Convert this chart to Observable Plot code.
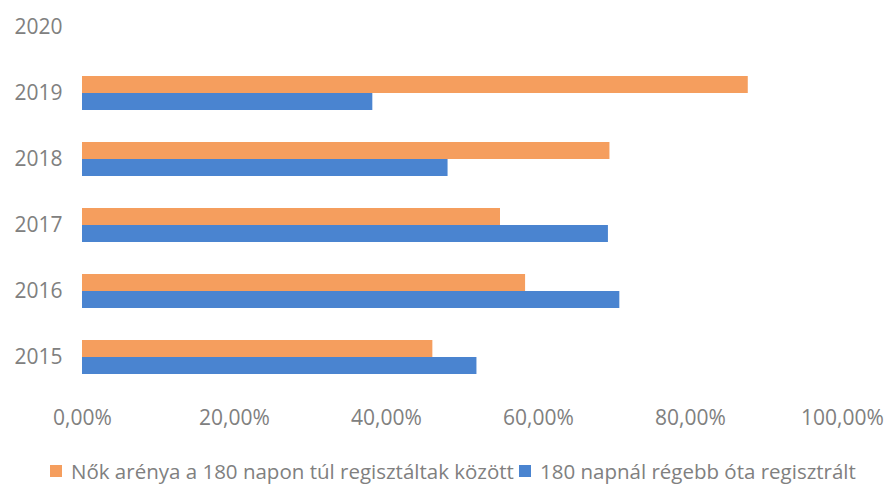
<!DOCTYPE html>
<html>
<head>
<meta charset="utf-8">
<script src="https://cdn.jsdelivr.net/npm/d3@7"></script>
<script src="https://cdn.jsdelivr.net/npm/@observablehq/plot@0.6"></script>
<style>
  html, body { margin: 0; padding: 0; background: #fff; }
  body { width: 889px; height: 487px; overflow: hidden; font-family: "Open Sans", sans-serif; }
  #legend { display: flex; align-items: center; padding-left: 50px; margin-top: 12px; font-size: 20.5px; color: #808080; white-space: nowrap; }
  .sw { display: inline-block; width: 12px; height: 12px; margin-right: 9px; }
  .item { display: flex; align-items: center; margin-right: 5px; }
</style>
</head>
<body>
<div id="chart"></div>
<div id="legend"></div>
<script>
const years = ["2020", "2019", "2018", "2017", "2016", "2015"];
const nokAranya = [null, 87.6, 69.4, 55.0, 58.3, 46.1];
const regebbOta = [null, 38.2, 48.1, 69.2, 70.7, 51.9];
const seriesNames = ["Nők arénya a 180 napon túl regisztáltak között", "180 napnál régebb óta regisztrált"];
const seriesColors = ["#F59E5E", "#4A84D0"];
const xTicks = [0, 20, 40, 60, 80, 100];

const orangeData = years.map((y, i) => ({year: y, value: nokAranya[i]})).filter(d => d.value != null);
const blueData = years.map((y, i) => ({year: y, value: regebbOta[i]})).filter(d => d.value != null);

const H = 445;
const plot = Plot.plot({
  width: 889,
  height: H,
  marginLeft: 82,
  marginRight: 47,
  marginTop: 8,
  marginBottom: H - 375,
  style: {fontFamily: "Open Sans, sans-serif", fontSize: "21px", color: "#808080", background: "#fff"},
  x: {domain: [0, 100], ticks: xTicks, tickFormat: d => d.toFixed(2).replace(".", ",") + "%"},
  y: {domain: years, paddingInner: 0.49, paddingOuter: 0},
  marks: [
    Plot.barX(orangeData, {x: "value", y: "year", fill: seriesColors[0], insetBottom: 17}),
    Plot.barX(blueData, {x: "value", y: "year", fill: seriesColors[1], insetTop: 17}),
    Plot.axisX({ticks: xTicks, tickFormat: d => d.toFixed(2).replace(".", ",") + "%", tickSize: 0, tickPadding: 35, label: null, fill: "#808080", fontSize: 21}),
    Plot.axisY({tickSize: 0, tickPadding: 20, label: null, fill: "#808080", fontSize: 21})
  ]
});
document.getElementById("chart").appendChild(plot);

const legend = document.getElementById("legend");
seriesNames.forEach((name, i) => {
  const item = document.createElement("span");
  item.className = "item";
  const sw = document.createElement("span");
  sw.className = "sw";
  sw.style.background = seriesColors[i];
  item.appendChild(sw);
  item.appendChild(document.createTextNode(name));
  legend.appendChild(item);
});
</script>
</body>
</html>
